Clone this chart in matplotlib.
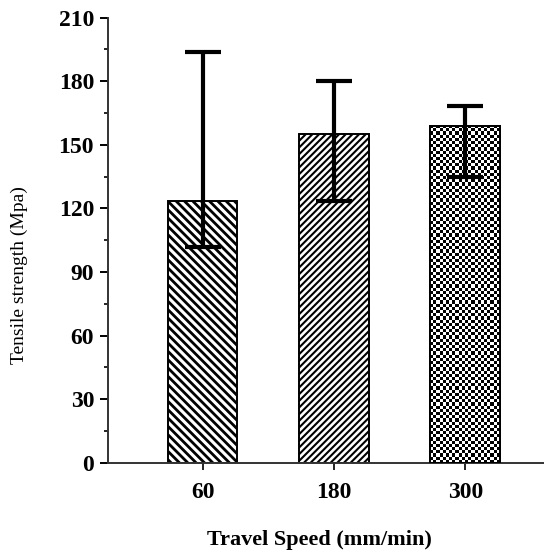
import numpy as np
import matplotlib
matplotlib.use("Agg")
from matplotlib import pyplot as plt
from matplotlib.ticker import MultipleLocator

speeds = ["60", "180", "300"]
strength = [123.5, 155.3, 159.0]
err_low = [102.0, 123.6, 135.0]
err_high = [194.0, 180.0, 168.5]
hatches = ["\\\\\\\\", "/////", None]
hatch_lw = [2.0, 1.5, 1.0]

plt.rcParams["font.family"] = ["Liberation Serif", "DejaVu Serif"]

fig = plt.figure(figsize=(5.44, 5.53), dpi=100)
ax = fig.add_axes([0.1985, 0.163, 0.8015, 0.805])

x = np.arange(len(speeds))
bars = []
for xi, v, h, lw in zip(x, strength, hatches, hatch_lw):
    with plt.rc_context({"hatch.linewidth": lw}):
        b = ax.bar([xi], [v], width=0.53, color="white", edgecolor="black",
                   linewidth=1.4, zorder=2, hatch=h)[0]
    bars.append(b)

yerr = [np.array(strength) - np.array(err_low), np.array(err_high) - np.array(strength)]
ax.errorbar(x, strength, yerr=yerr, fmt="none", ecolor="black", elinewidth=3,
            capsize=13, capthick=3, zorder=4)

ax.set_xlim(-0.72, 2.6)
ax.set_ylim(0, 210)

# checkerboard fill for the last bar
b = bars[2]
ncols = 22
nrows = int(round(ncols * b.get_height() / 210 * 445 / 70))
board = (np.add.outer(np.arange(nrows), np.arange(ncols)) % 2).astype(float)
im = ax.imshow(board, cmap="gray", interpolation="nearest", aspect="auto",
               extent=[b.get_x(), b.get_x() + b.get_width(), 0, b.get_height()],
               zorder=2.5)
im.set_clip_path(b)
ax.bar([x[2]], [strength[2]], width=0.53, color="none", edgecolor="black",
       linewidth=1.4, zorder=3)
ax.set_xlim(-0.72, 2.6)
ax.set_ylim(0, 210)

ax.set_xticks(x)
ax.set_xticklabels(speeds)
ax.yaxis.set_major_locator(MultipleLocator(30))
ax.yaxis.set_minor_locator(MultipleLocator(15))

for s in ["top", "right"]:
    ax.spines[s].set_visible(False)
for s in ["left", "bottom"]:
    ax.spines[s].set_linewidth(1.4)
    ax.spines[s].set_color("#333333")

ax.tick_params(axis="y", which="major", length=6, width=1.4, pad=4, labelsize=17)
ax.tick_params(axis="y", which="minor", length=3, width=1.2)
ax.tick_params(axis="x", which="major", length=5, width=1.2, pad=9, labelsize=17)
for lab in ax.get_xticklabels() + ax.get_yticklabels():
    lab.set_fontweight("bold")

ax.set_ylabel("Tensile strength (Mpa)", fontsize=14)
ax.yaxis.set_label_coords(-0.183, 0.4225)
ax.set_xlabel("Travel Speed (mm/min)", fontsize=16, fontweight="bold")
ax.xaxis.set_label_coords(0.486, -0.15)

fig.savefig("out.png", dpi=100)
